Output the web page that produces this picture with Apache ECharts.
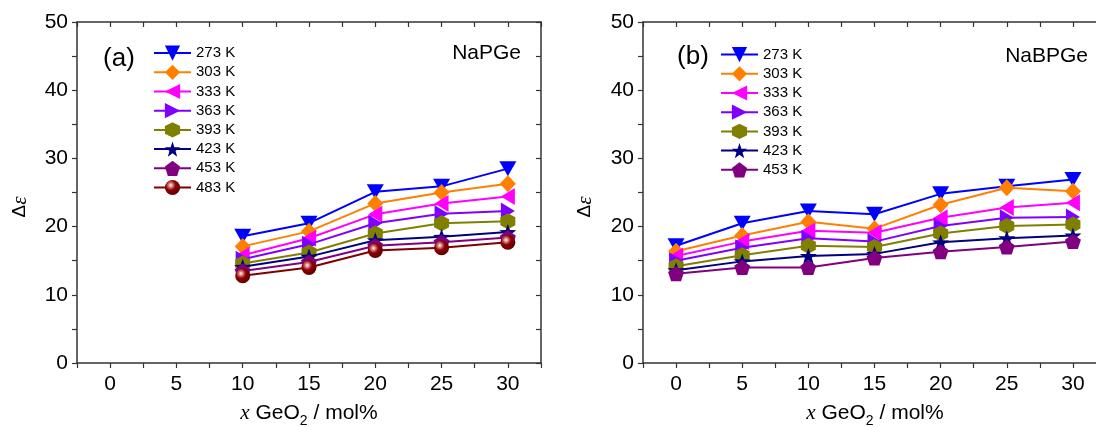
<!DOCTYPE html>
<html>
<head>
<meta charset="utf-8">
<script src="https://cdn.jsdelivr.net/npm/echarts@6/dist/echarts.min.js"></script>
<style>
html,body{margin:0;padding:0;background:#fff;}
#c{width:1096px;height:427px;}
</style>
</head>
<body>
<div id="c"></div>
<script>
// ---- data ----
const tempNames = ['273 K','303 K','333 K','363 K','393 K','423 K','453 K','483 K'];
const xA = [10, 15, 20, 25, 30];
const a273 = [18.6, 20.5, 25.1, 25.9, 28.5];
const a303 = [17.1, 19.3, 23.4, 25.0, 26.3];
const a333 = [15.8, 18.3, 21.8, 23.4, 24.4];
const a363 = [15.2, 17.4, 20.5, 21.9, 22.3];
const a393 = [14.6, 16.2, 19.0, 20.5, 20.8];
const a423 = [14.1, 15.6, 18.0, 18.5, 19.2];
const a453 = [13.5, 14.8, 17.2, 17.7, 18.4];
const a483 = [12.8, 14.0, 16.5, 16.9, 17.7];

const xB = [0, 5, 10, 15, 20, 25, 30];
const b273 = [17.2, 20.5, 22.3, 21.8, 24.8, 25.9, 26.9];
const b303 = [16.4, 18.7, 20.7, 19.7, 23.2, 25.7, 25.2];
const b333 = [15.7, 17.8, 19.4, 19.1, 21.3, 22.8, 23.5];
const b363 = [15.0, 16.9, 18.3, 17.8, 20.1, 21.3, 21.4];
const b393 = [14.2, 15.8, 17.2, 17.0, 19.0, 20.1, 20.3];
const b423 = [13.6, 14.9, 15.7, 16.0, 17.7, 18.3, 18.7];
const b453 = [13.1, 14.0, 14.0, 15.4, 16.3, 17.0, 17.8];

const xTicks = [0, 5, 10, 15, 20, 25, 30];
const yTicks = [0, 10, 20, 30, 40, 50];

// ---- styles ----
const FONT = '"Liberation Sans", Arial, sans-serif';
const SERIF = '"Liberation Serif", "DejaVu Serif", serif';
const AX = '#333';

const styles = [
  {color:'#0000FF', symbol:'path://M0,0L10,0L5,8.66Z', size:[17,15]},
  {color:'#FF8000', symbol:'diamond', size:[16,17]},
  {color:'#FF00FF', symbol:'path://M0,5L8.66,0L8.66,10Z', size:[14,17]},
  {color:'#8000FF', symbol:'path://M0,0L8.66,5L0,10Z', size:[14,17]},
  {color:'#808000', symbol:'path://M5,0L9.33,2.5L9.33,7.5L5,10L0.67,7.5L0.67,2.5Z', size:[15,16]},
  {color:'#000080', symbol:'path://M50,0L61.8,33.8L97.6,34.5L69,56.2L79.4,90.5L50,70L20.6,90.5L31,56.2L2.4,34.5L38.2,33.8Z', size:[17,16]},
  {color:'#800080', symbol:'path://M50,0L97.6,34.5L79.4,90.5L20.6,90.5L2.4,34.5Z', size:[16,15]},
  {color:'#800000', symbol:'circle', size:15,
   fill:{type:'radial', x:0.38, y:0.35, r:0.65, colorStops:[
     {offset:0, color:'#ffffff'}, {offset:0.22, color:'#d08080'},
     {offset:0.5, color:'#900000'}, {offset:1, color:'#600000'}]}}
];

function mk(name, idx, xs, ys, gi) {
  const s = styles[idx];
  return {
    name: name, type: 'line', xAxisIndex: gi, yAxisIndex: gi,
    data: xs.map((x, i) => [x, ys[i]]),
    symbol: s.symbol, symbolSize: s.size,
    lineStyle: {color: s.color, width: 2},
    itemStyle: {color: s.fill || s.color},
    emphasis: {disabled: true},
    animation: false, z: 2 + idx
  };
}

const seriesA = [a273, a303, a333, a363, a393, a423, a453, a483];
const seriesB = [b273, b303, b333, b363, b393, b423, b453];

const series = [];
seriesA.forEach((d, i) => series.push(mk(tempNames[i], i, xA, d, 0)));
seriesB.forEach((d, i) => series.push(mk(tempNames[i], i, xB, d, 1)));

function xAxisCfg(gi, top) {
  return {
    type: 'value', gridIndex: gi, position: top ? 'top' : 'bottom',
    min: -2.5, max: 32.5, interval: 2.5,
    axisLine: {show: true, onZero: false, lineStyle: {color: AX, width: 1.5}},
    axisTick: {show: true, inside: !!top, length: 5, lineStyle: {color: AX, width: 1.2}},
    axisLabel: {show: !top, margin: 11, fontSize: 21, fontFamily: FONT, color: '#000',
      formatter: v => xTicks.indexOf(v) >= 0 ? String(v) : ''},
    splitLine: {show: false}
  };
}
function yAxisCfg(gi, right) {
  return {
    type: 'value', gridIndex: gi, position: right ? 'right' : 'left',
    min: 0, max: 50, interval: 5,
    axisLine: {show: true, onZero: false, lineStyle: {color: AX, width: 1.5}},
    axisTick: {show: true, inside: !!right, length: 5, lineStyle: {color: AX, width: 1.2}},
    axisLabel: {show: !right, margin: 9, fontSize: 21, fontFamily: FONT, color: '#000',
      formatter: v => yTicks.indexOf(v) >= 0 ? String(v) : ''},
    splitLine: {show: false}
  };
}

function legendCfg(names, left, top) {
  return {
    data: names, orient: 'vertical', left: left, top: top, padding: 0,
    itemWidth: 37, itemHeight: 19, itemGap: 4, itemTextGap: 3,
    textStyle: {fontSize: 15, fontFamily: FONT, color: '#000'},
    selectedMode: false
  };
}

const xTitleRich = {
  i: {fontFamily: SERIF, fontStyle: 'italic', fontSize: 21, lineHeight: 30, verticalAlign: 'middle'},
  n: {fontFamily: FONT, fontSize: 21, lineHeight: 30, verticalAlign: 'middle'},
  s: {fontFamily: FONT, fontSize: 14, lineHeight: 14, verticalAlign: 'bottom'}
};
const yTitleRich = {
  d: {fontFamily: FONT, fontSize: 19},
  e: {fontFamily: SERIF, fontStyle: 'italic', fontSize: 21}
};

function txt(text, x, y, opts) {
  return {
    type: 'text', x: x, y: y, z: 100,
    style: Object.assign({text: text, fill: '#000', fontFamily: FONT, fontSize: 21,
      align: 'center', verticalAlign: 'middle'}, opts || {})
  };
}

const chart = echarts.init(document.getElementById('c'), null, {renderer: 'canvas'});
chart.setOption({
  animation: false,
  backgroundColor: '#fff',
  grid: [
    {left: 77, top: 22, width: 464, height: 341, outerBoundsMode: 'none', containLabel: false},
    {left: 643, top: 22, width: 463, height: 341, outerBoundsMode: 'none', containLabel: false}
  ],
  xAxis: [xAxisCfg(0, false), xAxisCfg(1, false), xAxisCfg(0, true), xAxisCfg(1, true)],
  yAxis: [yAxisCfg(0, false), yAxisCfg(1, false), yAxisCfg(0, true), yAxisCfg(1, true)],
  legend: [
    legendCfg(tempNames, 153, 45.5),
    legendCfg(tempNames.slice(0, 7), 720, 47)
  ],
  series: series,
  graphic: [
    txt('(a)', 119, 59, {fontSize: 26}),
    txt('NaPGe', 521, 53, {align: 'right'}),
    txt('(b)', 693, 57, {fontSize: 26}),
    txt('NaBPGe', 1088, 56, {align: 'right'}),
    {type: 'text', x: 20, y: 207, rotation: Math.PI / 2, z: 100,
     style: {text: '{d|Δ}{e|ε}', rich: yTitleRich, fill: '#000', align: 'center', verticalAlign: 'middle'}},
    {type: 'text', x: 585, y: 207, rotation: Math.PI / 2, z: 100,
     style: {text: '{d|Δ}{e|ε}', rich: yTitleRich, fill: '#000', align: 'center', verticalAlign: 'middle'}},
    {type: 'text', x: 309, y: 413, z: 100,
     style: {text: '{i|x}{n| GeO}{s|2}{n| / mol%}', rich: xTitleRich, fill: '#000', align: 'center', verticalAlign: 'middle'}},
    {type: 'text', x: 875, y: 413, z: 100,
     style: {text: '{i|x}{n| GeO}{s|2}{n| / mol%}', rich: xTitleRich, fill: '#000', align: 'center', verticalAlign: 'middle'}}
  ]
});
</script>
</body>
</html>
